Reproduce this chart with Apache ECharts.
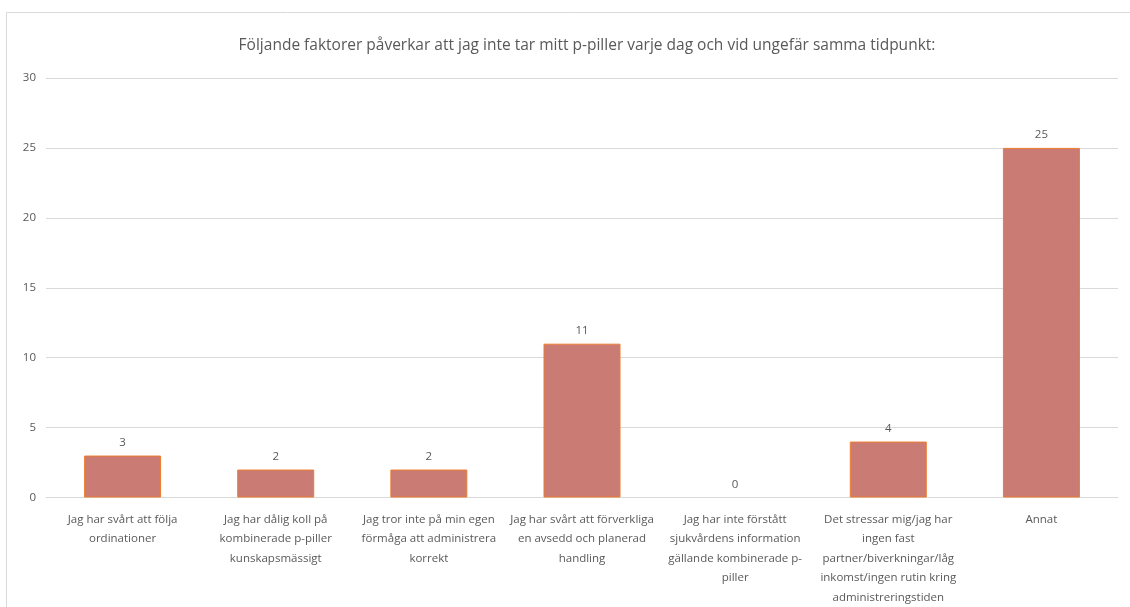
<!DOCTYPE html>
<html>
<head>
<meta charset="utf-8">
<script src="https://cdn.jsdelivr.net/npm/echarts@6/dist/echarts.min.js"></script>
<style>
html,body{margin:0;padding:0;background:#fff;}
#c{width:1130px;height:607px;}
</style>
</head>
<body>
<div id="c"></div>
<script>
const titleText = "Följande faktorer påverkar att jag inte tar mitt p-piller varje dag och vid ungefär samma tidpunkt:";
const categories = [
  "Jag har svårt att följa\nordinationer",
  "Jag har dålig koll på\nkombinerade p-piller\nkunskapsmässigt",
  "Jag tror inte på min egen\nförmåga att administrera\nkorrekt",
  "Jag har svårt att förverkliga\nen avsedd och planerad\nhandling",
  "Jag har inte förstått\nsjukvårdens information\ngällande kombinerade p-\npiller",
  "Det stressar mig/jag har\ningen fast\npartner/biverkningar/låg\ninkomst/ingen rutin kring\nadministreringstiden",
  "Annat"
];
const values = [3, 2, 2, 11, 0, 4, 25];

const chart = echarts.init(document.getElementById('c'));
const font = "'Open Sans', 'Liberation Sans', sans-serif";
chart.setOption({
  animation: false,
  backgroundColor: '#fff',
  graphic: [{
    type: 'rect', left: 4, top: 10,
    shape: {width: 1140, height: 610},
    style: {fill: 'none', stroke: '#D9D9D9', lineWidth: 1}
  }],
  title: {
    text: titleText, left: 582, textAlign: 'center', top: 33,
    textStyle: {fontFamily: font, fontSize: 15.5, fontWeight: 'normal', color: '#595959'}
  },
  grid: {left: 46, right: 12, top: 78, bottom: 108, containLabel: false},
  xAxis: {
    type: 'category', data: categories,
    axisLine: {lineStyle: {color: '#D9D9D9'}},
    axisTick: {show: false},
    axisLabel: {interval: 0, color: '#595959', fontFamily: font, fontSize: 11.5, lineHeight: 19.5, margin: 12}
  },
  yAxis: {
    type: 'value', min: 0, max: 30, interval: 5,
    axisLine: {show: false}, axisTick: {show: false},
    splitLine: {lineStyle: {color: '#D9D9D9', width: 1}},
    axisLabel: {color: '#595959', fontFamily: font, fontSize: 11.5, margin: 10}
  },
  series: [{
    type: 'bar',
    data: values.map(v => v === 0 ? {value: v, itemStyle: {borderWidth: 0, opacity: 0}, label: {opacity: 1}} : v),
    barWidth: 77,
    itemStyle: {color: '#C97B74', borderColor: '#ED7D31', borderWidth: 1},
    label: {show: true, position: 'top', distance: 7, color: '#595959', fontFamily: font, fontSize: 11.5}
  }]
});
</script>
</body>
</html>
